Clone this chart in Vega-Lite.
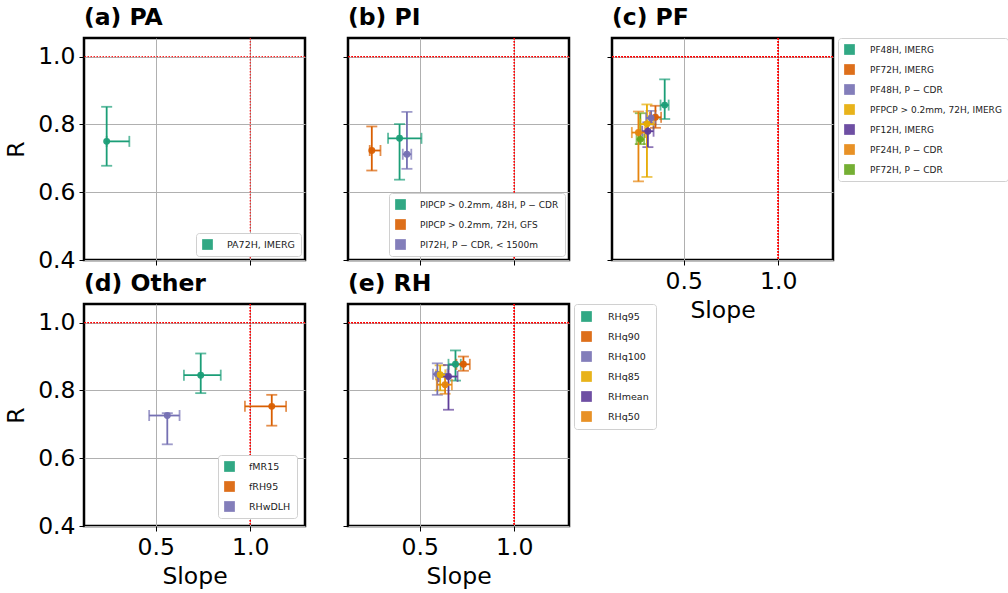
{
  "$schema": "https://vega.github.io/schema/vega-lite/v6.json",
  "padding": {"left": 3, "top": 4, "right": 3, "bottom": 3},
  "background": "white",
  "datasets": {
    "pa": [
      {"name": "PA72H, IMERG", "s": 0.24, "slo": 0.24, "shi": 0.36, "r": 0.75, "rlo": 0.678, "rhi": 0.852}
    ],
    "pi": [
      {"name": "PIPCP > 0.2mm, 48H, P − CDR", "s": 0.393, "slo": 0.332, "shi": 0.509, "r": 0.759, "rlo": 0.637, "rhi": 0.801},
      {"name": "PIPCP > 0.2mm, 72H, GFS", "s": 0.246, "slo": 0.235, "shi": 0.292, "r": 0.723, "rlo": 0.664, "rhi": 0.794},
      {"name": "PI72H, P − CDR, < 1500m", "s": 0.432, "slo": 0.41, "shi": 0.455, "r": 0.712, "rlo": 0.669, "rhi": 0.837}
    ],
    "pf": [
      {"name": "PF48H, IMERG", "s": 0.399, "slo": 0.377, "shi": 0.42, "r": 0.857, "rlo": 0.816, "rhi": 0.933},
      {"name": "PF72H, IMERG", "s": 0.35, "slo": 0.32, "shi": 0.38, "r": 0.821, "rlo": 0.79, "rhi": 0.855},
      {"name": "PF48H, P − CDR", "s": 0.327, "slo": 0.3, "shi": 0.35, "r": 0.819, "rlo": 0.8, "rhi": 0.84},
      {"name": "PFPCP > 0.2mm, 72H, IMERG", "s": 0.305, "slo": 0.27, "shi": 0.34, "r": 0.801, "rlo": 0.645, "rhi": 0.859},
      {"name": "PF12H, IMERG", "s": 0.31, "slo": 0.28, "shi": 0.34, "r": 0.78, "rlo": 0.733, "rhi": 0.806},
      {"name": "PF24H, P − CDR", "s": 0.26, "slo": 0.225, "shi": 0.295, "r": 0.776, "rlo": 0.632, "rhi": 0.838},
      {"name": "PF72H, P − CDR", "s": 0.27, "slo": 0.25, "shi": 0.29, "r": 0.756, "rlo": 0.742, "rhi": 0.833}
    ],
    "other": [
      {"name": "fMR15", "s": 0.738, "slo": 0.649, "shi": 0.844, "r": 0.845, "rlo": 0.792, "rhi": 0.909},
      {"name": "fRH95", "s": 1.114, "slo": 0.972, "shi": 1.19, "r": 0.753, "rlo": 0.696, "rhi": 0.787},
      {"name": "RHwDLH", "s": 0.561, "slo": 0.465, "shi": 0.626, "r": 0.726, "rlo": 0.641, "rhi": 0.733}
    ],
    "rh": [
      {"name": "RHq95", "s": 0.689, "slo": 0.652, "shi": 0.717, "r": 0.877, "rlo": 0.829, "rhi": 0.918},
      {"name": "RHq90", "s": 0.731, "slo": 0.694, "shi": 0.765, "r": 0.877, "rlo": 0.858, "rhi": 0.9},
      {"name": "RHq100", "s": 0.593, "slo": 0.57, "shi": 0.646, "r": 0.848, "rlo": 0.787, "rhi": 0.88},
      {"name": "RHq85", "s": 0.608, "slo": 0.585, "shi": 0.635, "r": 0.846, "rlo": 0.8, "rhi": 0.874},
      {"name": "RHmean", "s": 0.652, "slo": 0.6, "shi": 0.7, "r": 0.841, "rlo": 0.743, "rhi": 0.875},
      {"name": "RHq50", "s": 0.634, "slo": 0.59, "shi": 0.67, "r": 0.817, "rlo": 0.79, "rhi": 0.84}
    ]
  },
  "columns": 3,
  "spacing": {"row": 44, "column": 43},
  "bounds": "flush",
  "resolve": {"scale": {"color": "independent"}, "legend": {"color": "independent"}},
  "concat": [
    {
      "title": {"text": "(a) PA"},
      "width": 221, "height": 222,
      "data": {"name": "pa"},
      "encoding": {
        "x": {"field": "s", "type": "quantitative", "scale": {"domain": [0.12, 1.29], "nice": false, "zero": false}, "axis": {"values": [0.5, 1.0], "labels": false, "title": null}},
        "y": {"field": "r", "type": "quantitative", "scale": {"domain": [0.4, 1.055], "nice": false, "zero": false}, "axis": {"values": [0.4, 0.6, 0.8, 1.0], "format": ".1f", "title": "R"}},
        "color": {"field": "name", "type": "nominal", "sort": null, "scale": {"domain": ["PA72H, IMERG"], "range": ["#1b9e77"]}, "legend": {"title": null, "orient": "bottom-right", "offset": 4}}
      },
      "layer": [
        {"mark": {"type": "rule", "color": "red", "strokeDash": [1.5, 1.5], "strokeWidth": 1}, "encoding": {"x": {"datum": 1, "type": "quantitative", "scale": {"domain": [0.12, 1.29], "nice": false, "zero": false}, "axis": {"values": [0.5, 1.0], "labels": false, "title": null}}, "y": null, "color": null}},
        {"mark": {"type": "rule", "color": "red", "strokeDash": [1.5, 1.5], "strokeWidth": 1}, "encoding": {"y": {"datum": 1, "type": "quantitative", "scale": {"domain": [0.4, 1.055], "nice": false, "zero": false}, "axis": {"values": [0.4, 0.6, 0.8, 1.0], "format": ".1f", "title": "R"}}, "x": null, "color": null}},
        {"mark": {"type": "errorbar", "ticks": {"size": 11, "thickness": 1.8}, "thickness": 1.8}, "encoding": {"y": {"field": "rlo", "type": "quantitative", "scale": {"domain": [0.4, 1.055], "nice": false, "zero": false}, "axis": {"values": [0.4, 0.6, 0.8, 1.0], "format": ".1f", "title": "R"}}, "y2": {"field": "rhi"}}},
        {"mark": {"type": "errorbar", "ticks": {"size": 11, "thickness": 1.8}, "thickness": 1.8}, "encoding": {"x": {"field": "slo", "type": "quantitative", "scale": {"domain": [0.12, 1.29], "nice": false, "zero": false}, "axis": {"values": [0.5, 1.0], "labels": false, "title": null}}, "x2": {"field": "shi"}}},
        {"mark": {"type": "point", "filled": true, "size": 48, "opacity": 0.95}}
      ]
    },
    {
      "title": {"text": "(b) PI"},
      "width": 221, "height": 222,
      "data": {"name": "pi"},
      "encoding": {
        "x": {"field": "s", "type": "quantitative", "scale": {"domain": [0.12, 1.29], "nice": false, "zero": false}, "axis": {"values": [0.5, 1.0], "labels": false, "title": null}},
        "y": {"field": "r", "type": "quantitative", "scale": {"domain": [0.4, 1.055], "nice": false, "zero": false}, "axis": {"values": [0.4, 0.6, 0.8, 1.0], "labels": false, "title": null}},
        "color": {"field": "name", "type": "nominal", "sort": null, "scale": {"domain": ["PIPCP > 0.2mm, 48H, P − CDR", "PIPCP > 0.2mm, 72H, GFS", "PI72H, P − CDR, < 1500m"], "range": ["#1b9e77", "#d95f02", "#7570b3"]}, "legend": {"title": null, "orient": "bottom-right", "offset": 4, "labelFontSize": 9}}
      },
      "layer": [
        {"mark": {"type": "rule", "color": "red", "strokeDash": [1.5, 1.5], "strokeWidth": 1}, "encoding": {"x": {"datum": 1, "type": "quantitative", "scale": {"domain": [0.12, 1.29], "nice": false, "zero": false}, "axis": {"values": [0.5, 1.0], "labels": false, "title": null}}, "y": null, "color": null}},
        {"mark": {"type": "rule", "color": "red", "strokeDash": [1.5, 1.5], "strokeWidth": 1}, "encoding": {"y": {"datum": 1, "type": "quantitative", "scale": {"domain": [0.4, 1.055], "nice": false, "zero": false}, "axis": {"values": [0.4, 0.6, 0.8, 1.0], "labels": false, "title": null}}, "x": null, "color": null}},
        {"mark": {"type": "errorbar", "ticks": {"size": 11, "thickness": 1.8}, "thickness": 1.8}, "encoding": {"y": {"field": "rlo", "type": "quantitative", "scale": {"domain": [0.4, 1.055], "nice": false, "zero": false}, "axis": {"values": [0.4, 0.6, 0.8, 1.0], "labels": false, "title": null}}, "y2": {"field": "rhi"}}},
        {"mark": {"type": "errorbar", "ticks": {"size": 11, "thickness": 1.8}, "thickness": 1.8}, "encoding": {"x": {"field": "slo", "type": "quantitative", "scale": {"domain": [0.12, 1.29], "nice": false, "zero": false}, "axis": {"values": [0.5, 1.0], "labels": false, "title": null}}, "x2": {"field": "shi"}}},
        {"mark": {"type": "point", "filled": true, "size": 48, "opacity": 0.95}}
      ]
    },
    {
      "title": {"text": "(c) PF"},
      "width": 221, "height": 222,
      "data": {"name": "pf"},
      "encoding": {
        "x": {"field": "s", "type": "quantitative", "scale": {"domain": [0.12, 1.29], "nice": false, "zero": false}, "axis": {"values": [0.5, 1.0], "format": ".1f", "title": "Slope"}},
        "y": {"field": "r", "type": "quantitative", "scale": {"domain": [0.4, 1.055], "nice": false, "zero": false}, "axis": {"values": [0.4, 0.6, 0.8, 1.0], "labels": false, "title": null}},
        "color": {"field": "name", "type": "nominal", "sort": null, "scale": {"domain": ["PF48H, IMERG", "PF72H, IMERG", "PF48H, P − CDR", "PFPCP > 0.2mm, 72H, IMERG", "PF12H, IMERG", "PF24H, P − CDR", "PF72H, P − CDR"], "range": ["#1b9e77", "#d95f02", "#7570b3", "#e6ab02", "#5e3c99", "#e6850e", "#66a61e"]}, "legend": {"title": null, "orient": "right", "offset": 5, "labelFontSize": 9, "labelOffset": 15}}
      },
      "layer": [
        {"mark": {"type": "rule", "color": "red", "strokeDash": [1.5, 1.5], "strokeWidth": 1}, "encoding": {"x": {"datum": 1, "type": "quantitative", "scale": {"domain": [0.12, 1.29], "nice": false, "zero": false}, "axis": {"values": [0.5, 1.0], "format": ".1f", "title": "Slope"}}, "y": null, "color": null}},
        {"mark": {"type": "rule", "color": "red", "strokeDash": [1.5, 1.5], "strokeWidth": 1}, "encoding": {"y": {"datum": 1, "type": "quantitative", "scale": {"domain": [0.4, 1.055], "nice": false, "zero": false}, "axis": {"values": [0.4, 0.6, 0.8, 1.0], "labels": false, "title": null}}, "x": null, "color": null}},
        {"mark": {"type": "errorbar", "ticks": {"size": 11, "thickness": 1.8}, "thickness": 1.8}, "encoding": {"y": {"field": "rlo", "type": "quantitative", "scale": {"domain": [0.4, 1.055], "nice": false, "zero": false}, "axis": {"values": [0.4, 0.6, 0.8, 1.0], "labels": false, "title": null}}, "y2": {"field": "rhi"}}},
        {"mark": {"type": "errorbar", "ticks": {"size": 11, "thickness": 1.8}, "thickness": 1.8}, "encoding": {"x": {"field": "slo", "type": "quantitative", "scale": {"domain": [0.12, 1.29], "nice": false, "zero": false}, "axis": {"values": [0.5, 1.0], "format": ".1f", "title": "Slope"}}, "x2": {"field": "shi"}}},
        {"mark": {"type": "point", "filled": true, "size": 48, "opacity": 0.95}}
      ]
    },
    {
      "title": {"text": "(d) Other"},
      "width": 221, "height": 222,
      "data": {"name": "other"},
      "encoding": {
        "x": {"field": "s", "type": "quantitative", "scale": {"domain": [0.12, 1.29], "nice": false, "zero": false}, "axis": {"values": [0.5, 1.0], "format": ".1f", "title": "Slope"}},
        "y": {"field": "r", "type": "quantitative", "scale": {"domain": [0.4, 1.055], "nice": false, "zero": false}, "axis": {"values": [0.4, 0.6, 0.8, 1.0], "format": ".1f", "title": "R"}},
        "color": {"field": "name", "type": "nominal", "sort": null, "scale": {"domain": ["fMR15", "fRH95", "RHwDLH"], "range": ["#1b9e77", "#d95f02", "#7570b3"]}, "legend": {"title": null, "orient": "bottom-right", "offset": 8}}
      },
      "layer": [
        {"mark": {"type": "rule", "color": "red", "strokeDash": [1.5, 1.5], "strokeWidth": 1}, "encoding": {"x": {"datum": 1, "type": "quantitative", "scale": {"domain": [0.12, 1.29], "nice": false, "zero": false}, "axis": {"values": [0.5, 1.0], "format": ".1f", "title": "Slope"}}, "y": null, "color": null}},
        {"mark": {"type": "rule", "color": "red", "strokeDash": [1.5, 1.5], "strokeWidth": 1}, "encoding": {"y": {"datum": 1, "type": "quantitative", "scale": {"domain": [0.4, 1.055], "nice": false, "zero": false}, "axis": {"values": [0.4, 0.6, 0.8, 1.0], "format": ".1f", "title": "R"}}, "x": null, "color": null}},
        {"mark": {"type": "errorbar", "ticks": {"size": 11, "thickness": 1.8}, "thickness": 1.8}, "encoding": {"y": {"field": "rlo", "type": "quantitative", "scale": {"domain": [0.4, 1.055], "nice": false, "zero": false}, "axis": {"values": [0.4, 0.6, 0.8, 1.0], "format": ".1f", "title": "R"}}, "y2": {"field": "rhi"}}},
        {"mark": {"type": "errorbar", "ticks": {"size": 11, "thickness": 1.8}, "thickness": 1.8}, "encoding": {"x": {"field": "slo", "type": "quantitative", "scale": {"domain": [0.12, 1.29], "nice": false, "zero": false}, "axis": {"values": [0.5, 1.0], "format": ".1f", "title": "Slope"}}, "x2": {"field": "shi"}}},
        {"mark": {"type": "point", "filled": true, "size": 48, "opacity": 0.95}}
      ]
    },
    {
      "title": {"text": "(e) RH"},
      "width": 221, "height": 222,
      "data": {"name": "rh"},
      "encoding": {
        "x": {"field": "s", "type": "quantitative", "scale": {"domain": [0.12, 1.29], "nice": false, "zero": false}, "axis": {"values": [0.5, 1.0], "format": ".1f", "title": "Slope"}},
        "y": {"field": "r", "type": "quantitative", "scale": {"domain": [0.4, 1.055], "nice": false, "zero": false}, "axis": {"values": [0.4, 0.6, 0.8, 1.0], "labels": false, "title": null}},
        "color": {"field": "name", "type": "nominal", "sort": null, "scale": {"domain": ["RHq95", "RHq90", "RHq100", "RHq85", "RHmean", "RHq50"], "range": ["#1b9e77", "#d95f02", "#7570b3", "#e6ab02", "#5e3c99", "#e6850e"]}, "legend": {"title": null, "orient": "right", "offset": 5, "labelOffset": 16, "padding": 7}}
      },
      "layer": [
        {"mark": {"type": "rule", "color": "red", "strokeDash": [1.5, 1.5], "strokeWidth": 1}, "encoding": {"x": {"datum": 1, "type": "quantitative", "scale": {"domain": [0.12, 1.29], "nice": false, "zero": false}, "axis": {"values": [0.5, 1.0], "format": ".1f", "title": "Slope"}}, "y": null, "color": null}},
        {"mark": {"type": "rule", "color": "red", "strokeDash": [1.5, 1.5], "strokeWidth": 1}, "encoding": {"y": {"datum": 1, "type": "quantitative", "scale": {"domain": [0.4, 1.055], "nice": false, "zero": false}, "axis": {"values": [0.4, 0.6, 0.8, 1.0], "labels": false, "title": null}}, "x": null, "color": null}},
        {"mark": {"type": "errorbar", "ticks": {"size": 11, "thickness": 1.8}, "thickness": 1.8}, "encoding": {"y": {"field": "rlo", "type": "quantitative", "scale": {"domain": [0.4, 1.055], "nice": false, "zero": false}, "axis": {"values": [0.4, 0.6, 0.8, 1.0], "labels": false, "title": null}}, "y2": {"field": "rhi"}}},
        {"mark": {"type": "errorbar", "ticks": {"size": 11, "thickness": 1.8}, "thickness": 1.8}, "encoding": {"x": {"field": "slo", "type": "quantitative", "scale": {"domain": [0.12, 1.29], "nice": false, "zero": false}, "axis": {"values": [0.5, 1.0], "format": ".1f", "title": "Slope"}}, "x2": {"field": "shi"}}},
        {"mark": {"type": "point", "filled": true, "size": 48, "opacity": 0.95}}
      ]
    }
  ],
  "config": {
    "font": "DejaVu Sans",
    "view": {"stroke": "black", "strokeWidth": 2.5},
    "title": {"anchor": "start", "frame": "group", "fontSize": 23.5, "fontWeight": "bold", "color": "black", "offset": 8, "font": "DejaVu Sans"},
    "axis": {"domain": false, "grid": true, "gridColor": "#b0b0b0", "gridWidth": 1, "tickColor": "black", "tickSize": 5, "tickWidth": 1, "labelFontSize": 23.5, "titleFontSize": 23.5, "titleFontWeight": "normal", "labelColor": "black", "titleColor": "black", "labelPadding": 4, "labelFont": "DejaVu Sans", "titleFont": "DejaVu Sans"},
    "axisY": {"titlePadding": 9},
    "axisX": {"titlePadding": 6},
    "legend": {"labelFontSize": 9.5, "labelFont": "DejaVu Sans", "labelColor": "#222222", "symbolType": "square", "symbolSize": 115, "symbolStrokeWidth": 0, "symbolOpacity": 0.9, "strokeColor": "#d0d0d0", "fillColor": "white", "padding": 6, "cornerRadius": 3, "rowPadding": 9, "labelOffset": 14}
  }
}
